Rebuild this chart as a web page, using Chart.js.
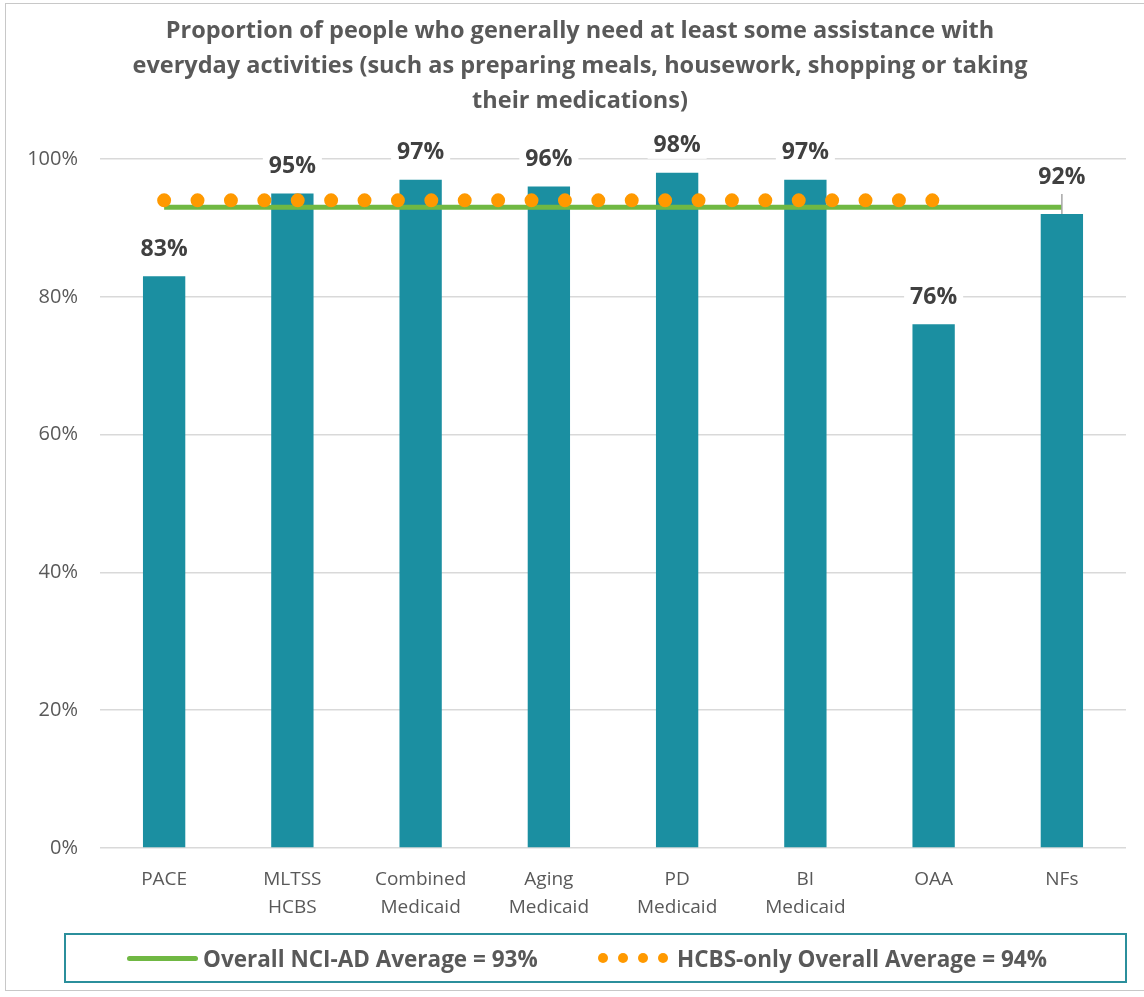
<!DOCTYPE html>
<html>
<head>
<meta charset="utf-8">
<script src="https://cdn.jsdelivr.net/npm/chart.js@4/dist/chart.umd.min.js"></script>
<style>
  html,body{margin:0;padding:0;background:#fff;}
  #wrap{position:relative;width:1144px;height:997px;overflow:hidden;}
  #frame{position:absolute;left:5px;top:3px;width:1150px;height:988px;border:1px solid #c8c8c8;box-sizing:border-box;}
  canvas{position:absolute;left:0;top:0;}
  #legend{position:absolute;left:64px;top:933px;width:1063px;height:50px;border:2px solid #2b8f9c;box-sizing:border-box;
    font-family:"Open Sans",sans-serif;font-weight:bold;font-size:22.5px;color:#595959;}
  #legend .item{position:absolute;top:0;height:46px;display:flex;align-items:center;white-space:nowrap;}
  .gline{display:inline-block;width:71px;height:5px;background:#70b843;border-radius:3px;margin-right:5px;}
  .odot{display:inline-block;width:10px;height:10px;border-radius:50%;background:#ff9900;margin-right:10px;}
</style>
</head>
<body>
<div id="wrap">
  <div id="frame"></div>
  <canvas id="c" width="1144" height="997"></canvas>
  <div id="legend">
    <div class="item" style="left:61px"><span class="gline"></span>Overall NCI-AD Average = 93%</div>
    <div class="item" style="left:532px"><span class="odot"></span><span class="odot"></span><span class="odot"></span><span class="odot" style="margin-right:9px"></span>HCBS-only Overall Average = 94%</div>
  </div>
</div>
<script>
// chart data
const categories = [["PACE"],["MLTSS","HCBS"],["Combined","Medicaid"],["Aging","Medicaid"],["PD","Medicaid"],["BI","Medicaid"],["OAA"],["NFs"]];
const values = [83, 95, 97, 96, 98, 97, 76, 92];
const overallAvg = [93, 93, 93, 93, 93, 93, 93, 93];
const hcbsAvg = [94, 94, 94, 94, 94, 94, 94, null];
const yTicks = [0, 20, 40, 60, 80, 100];
const titleLines = [
  "Proportion of people who generally need at least some assistance with",
  "everyday activities (such as preparing meals, housework, shopping or taking",
  "their medications)"
];

const FONT = '"Open Sans", sans-serif';
const GRAY = "#595959";

// title drawn by hand so it can sit a little right of the plot centre, like the original
const chartTitle = {
  id: "chartTitle",
  beforeDraw(chart){
    const ctx = chart.ctx;
    ctx.save();
    ctx.font = "bold 23.5px " + FONT;
    ctx.fillStyle = GRAY;
    ctx.textAlign = "center";
    ctx.textBaseline = "middle";
    titleLines.forEach((t, i)=> ctx.fillText(t, 580, 31 + i*35));
    ctx.restore();
  }
};

// bar value labels with white background
const barLabels = {
  id: "barLabels",
  afterDatasetsDraw(chart){
    const ctx = chart.ctx;
    const idx = chart.data.datasets.findIndex(d => d.type === "bar");
    const meta = chart.getDatasetMeta(idx);
    ctx.save();
    ctx.font = "bold 23px " + FONT;
    ctx.textAlign = "center";
    ctx.textBaseline = "middle";
    meta.data.forEach((bar, i)=>{
      const txt = values[i] + "%";
      // lift the label (with a leader line) when the bar sits just under the average line
      const nearAvg = values[i] < overallAvg[i] && overallAvg[i] - values[i] < 5;
      const y = bar.y - (nearAvg ? 37 : 27);
      if(nearAvg){
        ctx.strokeStyle = "#a6a6a6";
        ctx.lineWidth = 1.5;
        ctx.beginPath();
        ctx.moveTo(bar.x, y + 17);
        ctx.lineTo(bar.x, bar.y);
        ctx.stroke();
      }
      const w = ctx.measureText(txt).width + 12;
      ctx.fillStyle = "#fff";
      ctx.fillRect(bar.x - w/2, y - 13, w, 26);
      ctx.fillStyle = "#404040";
      ctx.fillText(txt, bar.x, y);
    });
    ctx.restore();
  }
};

new Chart(document.getElementById("c"), {
  data: {
    labels: categories,
    datasets: [
      { type:"line", label:"HCBS-only Overall Average = 94%", data:hcbsAvg, borderColor:"#ff9900", borderWidth:14,
        borderCapStyle:"round", borderDash:[0, 33.4], pointRadius:0, fill:false, order:0 },
      { type:"line", label:"Overall NCI-AD Average = 93%", data:overallAvg, borderColor:"#70b843", borderWidth:5,
        pointRadius:0, fill:false, order:1 },
      { type:"bar", label:"Proportion", data:values, backgroundColor:"#1b8fa1", barPercentage:0.66, categoryPercentage:0.5, order:2 }
    ]
  },
  options: {
    responsive:false,
    animation:false,
    layout:{ padding:{ left:5, right:18, top:159, bottom:69 } },
    plugins:{
      legend:{ display:false },
      tooltip:{ enabled:false },
      title:{ display:false }
    },
    scales:{
      x:{
        grid:{ display:false },
        border:{ display:false },
        ticks:{ color:GRAY, font:{ family:FONT, size:19, lineHeight:1.47 }, padding:10, maxRotation:0 },
        afterFit: s => { s.height = 80; }
      },
      y:{
        min:0, max:100,
        afterBuildTicks: s => { s.ticks = yTicks.map(v=>({value:v})); },
        grid:{ color:"#d9d9d9", lineWidth:1.5, drawTicks:false },
        border:{ display:false },
        ticks:{ color:GRAY, font:{ family:FONT, size:20 }, padding:22, callback: v => v + "%" },
        afterFit: s => { s.width = 95; }
      }
    }
  },
  plugins:[chartTitle, barLabels]
});
</script>
</body>
</html>
